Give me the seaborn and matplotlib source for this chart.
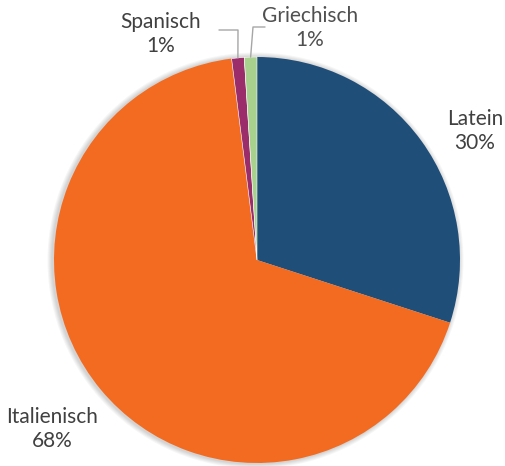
import matplotlib.pyplot as plt
import seaborn as sns
import numpy as np
from matplotlib.patches import Circle

# Sprachen und Anteile (%)
languages = ["Latein", "Italienisch", "Spanisch", "Griechisch"]
shares = [30, 68, 1, 1]
colors = ["#1F4E79", "#F26B21", "#9B2D6B", "#A9D18E"]

sns.set_theme(style="white")
plt.rcParams['font.family'] = ['Lato', 'DejaVu Sans']

W, H = 506, 466
fig = plt.figure(figsize=(W / 100, H / 100), dpi=100)
ax = fig.add_axes([0, 0, 1, 1])

cx, cy, r = 257, H - 260, 203

# soft shadow behind the pie
for k in range(5, 0, -1):
    ax.add_patch(Circle((cx - 1.5, cy - 0.5), r + k, color="#000000", alpha=0.035, lw=0))

wedges, _ = ax.pie(shares, colors=sns.color_palette(colors), startangle=90,
                   counterclock=False, center=(cx, cy), radius=r,
                   wedgeprops=dict(linewidth=0),
                   frame=True)
# thin white separation only around the small slices
for w in wedges[2:]:
    w.set_edgecolor("white")
    w.set_linewidth(0.4)

ax.set_xlim(0, W)
ax.set_ylim(0, H)
ax.set_aspect("equal")
ax.axis("off")

txt = "#404040"
fs = 15
ls = 1.25
labels = [f"{l}\n{s}%" for l, s in zip(languages, shares)]

ax.text(475, H - 131, labels[0], ha="center", va="center", fontsize=fs, color=txt, linespacing=ls)
ax.text(52, H - 429, labels[1], ha="center", va="center", fontsize=fs, color=txt, linespacing=ls)
ax.text(161, H - 34, labels[2], ha="center", va="center", fontsize=fs, color=txt, linespacing=ls)
ax.text(310, H - 28, labels[3], ha="center", va="center", fontsize=fs, color="#505050", linespacing=ls)

# Leader lines for the small slices
def edge_point(w):
    a = np.deg2rad((w.theta1 + w.theta2) / 2)
    return cx + r * np.cos(a), cy + r * np.sin(a)

sx, sy = edge_point(wedges[2])
ax.plot([219, 238, sx], [H - 30, H - 30, sy], color="#A6A6A6", lw=1)
gx, gy = edge_point(wedges[3])
ax.plot([265, 253, gx], [H - 27, H - 27, gy], color="#A6A6A6", lw=1)

fig.savefig("out.png", dpi=100)
